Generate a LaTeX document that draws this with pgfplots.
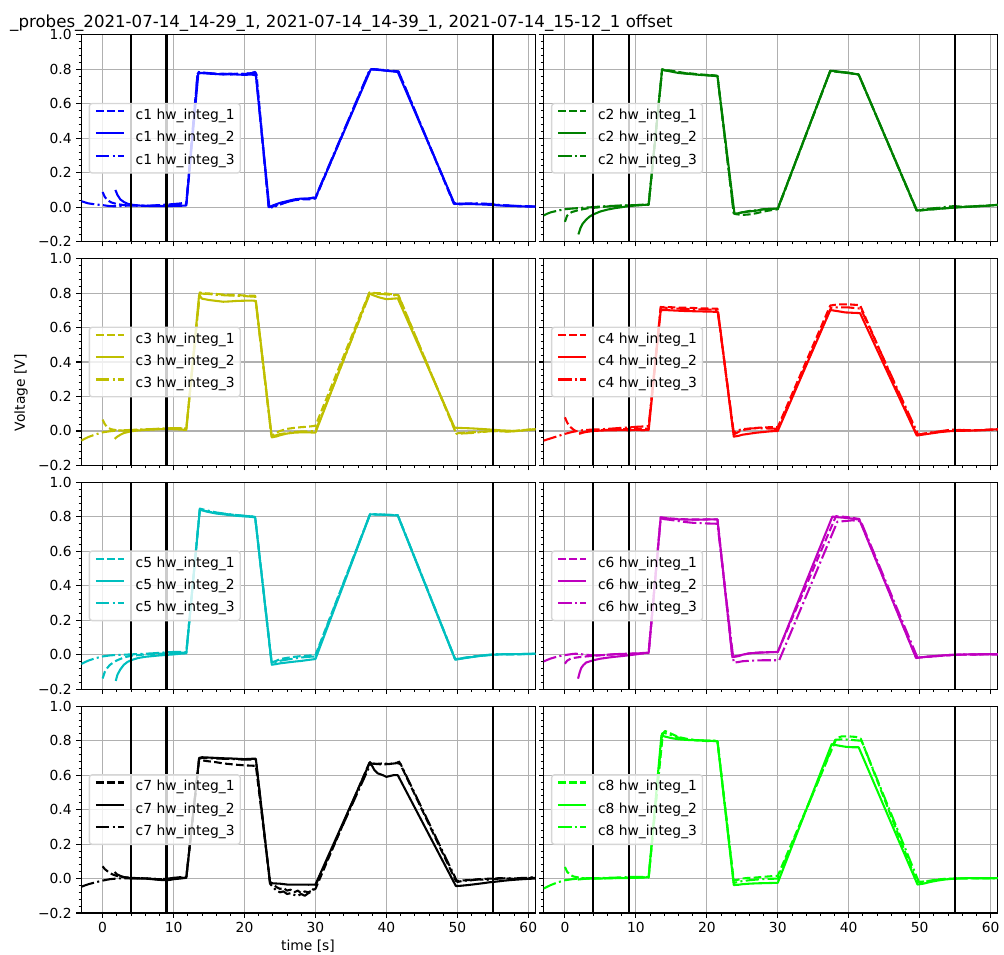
\documentclass[border=0pt]{standalone}
\usepackage{fontspec}
\setmainfont{DejaVu Sans}
\usepackage{pgfplots}
\pgfplotsset{compat=1.18}

\definecolor{mplb}{rgb}{0,0,1}
\definecolor{mplg}{rgb}{0,0.5,0}
\definecolor{mply}{rgb}{0.75,0.75,0}
\definecolor{mplr}{rgb}{1,0,0}
\definecolor{mplc}{rgb}{0,0.75,0.75}
\definecolor{mplm}{rgb}{0.75,0,0.75}
\definecolor{mplk}{rgb}{0,0,0}
\definecolor{mpllime}{rgb}{0,1,0}
\definecolor{gridgray}{HTML}{B0B0B0}
\definecolor{legendedge}{HTML}{D6D6D6}

\pgfplotsset{
  panel/.style={
    scale only axis, width=327.96bp, height=149.33bp,
    anchor=north west,
    xmin=-3, xmax=61, ymin=-0.2, ymax=1.0,
    xtick={0,10,20,30,40,50,60},
    xticklabels={0,10,20,30,40,50,60},
    ytick={-0.2,0,0.2,0.4,0.6,0.8,1.0},
    yticklabels={−0.2,0.0,0.2,0.4,0.6,0.8,1.0},
    minor x tick num=4, minor y tick num=4,
    xmajorgrids, ymajorgrids,
    major grid style={gridgray, line width=0.8bp},
    tick pos=left, tick align=outside,
    major tick length=3.5bp, minor tick length=2bp,
    major tick style={black, line width=0.8bp},
    minor tick style={black, line width=0.6bp},
    axis line style={line width=0.8bp},
    tick label style={font=\fontsize{10bp}{12bp}\selectfont, text=black},
    legend cell align=left,
    legend style={at={(0,0.5)}, anchor=west, xshift=5.3bp,
      fill=white, fill opacity=0.8, text opacity=1,
      draw=legendedge, line width=1bp, rounded corners=2bp,
      font=\fontsize{10bp}{12bp}\selectfont,
      inner xsep=4bp, inner ysep=4bp, row sep=6.1bp, column sep=0bp,
      nodes={inner xsep=0bp, inner ysep=0bp, text height=7.6bp, text depth=2.4bp}},
    legend image code/.code={\draw[#1] (0bp,3.5bp) -- (20bp,3.5bp); \path (28bp,3.5bp);},
  },
  s1/.style={line width=1.5bp, dash pattern=on 5.55bp off 2.4bp, line join=round},
  s2/.style={line width=1.5bp, solid, line join=round},
  s3/.style={line width=1.5bp, dash pattern=on 9.6bp off 2.4bp on 1.5bp off 2.4bp, line join=round},
  vmark/.style={black, line width=1.5bp, forget plot},
}

% time markers at 4 s, 9 s and 55 s
\newcommand{\timemarks}{%
  \addplot[vmark] coordinates {(4,-0.2) (4,1.0)};
  \addplot[vmark] coordinates {(9,-0.2) (9,1.0)};
  \addplot[vmark] coordinates {(55,-0.2) (55,1.0)};
}

\begin{document}
\begin{tikzpicture}
\begin{scope}[x=0.72bp, y=-0.72bp]
  \path[use as bounding box] (0,0) rectangle (1004,958);
  \coordinate (P1) at (81.6,35);
  \coordinate (P2) at (545.4,35);
  \coordinate (P3) at (81.6,259.5);
  \coordinate (P4) at (545.4,259.5);
  \coordinate (P5) at (81.6,484);
  \coordinate (P6) at (545.4,484);
  \coordinate (P7) at (81.6,708.5);
  \coordinate (P8) at (545.4,708.5);
  \node[anchor=base west, font=\fontsize{12bp}{14bp}\selectfont, inner sep=0pt]
    at (10,27.5) {\_probes\_2021-07-14\_14-29\_1, 2021-07-14\_14-39\_1, 2021-07-14\_15-12\_1 offset};
  \node[rotate=90, font=\fontsize{10bp}{12bp}\selectfont, inner sep=0pt] at (21,394) {Voltage [V]};
  \node[anchor=base, font=\fontsize{10bp}{12bp}\selectfont, inner sep=0pt] at (309,954) {time [s]};
\end{scope}

% ---------------- c1 ----------------
\begin{axis}[panel, at={(P1)}, xticklabels={}]
\addplot[mplb, s1] coordinates {(0,0.088) (0.3,0.06) (0.7,0.04) (1.2,0.028) (2,0.018) (3,0.012) (4,0.01) (5,0.008) (6,0.007) (7,0.008) (8,0.009) (9,0.01) (10,0.012) (11,0.015) (11.8,0.018) (13.4,0.775) (14,0.78) (15,0.778) (16,0.772) (17,0.775) (18,0.77) (19,0.775) (20,0.772) (21,0.78) (21.5,0.785) (21.7,0.77) (23.4,0.0) (23.6,-0.01) (24,0.005) (25,0.02) (26,0.03) (27,0.04) (28,0.045) (29,0.045) (30,0.05) (37.7,0.8) (38.5,0.8) (39.5,0.795) (40.5,0.79) (41.7,0.788) (49.5,0.02) (50,0.015) (51,0.018) (52,0.02) (53,0.02) (54,0.018) (55,0.015) (56,0.012) (57,0.01) (58,0.008) (59,0.006) (60,0.005) (61,0.004)};
\addlegendentry{c1 hw\_integ\_1}
\addplot[mplb, s2] coordinates {(1.8,0.1) (2.1,0.07) (2.5,0.045) (3,0.03) (3.5,0.02) (4,0.015) (5,0.01) (6,0.008) (7,0.006) (8,0.007) (9,0.006) (10,0.007) (11,0.008) (11.8,0.01) (13.5,0.78) (14,0.778) (15,0.775) (16,0.773) (17,0.77) (18,0.772) (19,0.77) (20,0.768) (21,0.77) (21.6,0.765) (23.5,0.0) (24,0.01) (25,0.025) (26,0.035) (27,0.045) (28,0.05) (29,0.05) (30,0.055) (37.8,0.8) (38.5,0.798) (40,0.792) (41.6,0.785) (49.6,0.02) (50,0.02) (52,0.018) (54,0.015) (56,0.01) (58,0.006) (60,0.004) (61,0.003)};
\addlegendentry{c1 hw\_integ\_2}
\addplot[mplb, s3] coordinates {(-3,0.035) (-2.5,0.028) (-2,0.022) (-1,0.016) (0,0.012) (1,0.006) (2,0.005) (3,0.008) (4,0.01) (5,0.01) (6,0.008) (7,0.01) (8,0.012) (9,0.015) (10,0.018) (11,0.022) (11.8,0.028) (13.4,0.785) (14,0.782) (15,0.778) (16,0.775) (17,0.772) (18,0.775) (19,0.772) (20,0.775) (21,0.778) (21.6,0.775) (23.4,0.005) (24,0.0) (25,0.015) (26,0.03) (27,0.04) (28,0.048) (29,0.05) (30,0.058) (37.7,0.802) (38.5,0.8) (40,0.795) (41.7,0.788) (49.5,0.025) (50,0.02) (52,0.022) (54,0.02) (55,0.018) (56,0.012) (58,0.008) (60,0.005) (61,0.004)};
\addlegendentry{c1 hw\_integ\_3}
\timemarks
\end{axis}

% ---------------- c2 ----------------
\begin{axis}[panel, at={(P2)}, xticklabels={}, yticklabels={}]
\addplot[mplg, s1] coordinates {(0,-0.085) (0.3,-0.05) (0.7,-0.035) (1,-0.028) (2,-0.016) (3,-0.008) (4,-0.004) (5,0.0) (6,0.004) (7,0.006) (8,0.008) (9,0.01) (10,0.012) (11,0.014) (11.8,0.015) (13.7,0.8) (14,0.797) (15,0.792) (16,0.785) (17,0.778) (18,0.775) (19,0.77) (20,0.768) (21,0.765) (21.5,0.762) (23.8,-0.035) (24,-0.04) (25,-0.045) (26,-0.042) (27,-0.035) (28,-0.025) (29,-0.018) (30,-0.012) (37.4,0.79) (38.5,0.785) (40,0.78) (41.4,0.77) (49.6,-0.022) (50,-0.02) (51,-0.015) (52,-0.012) (53,-0.008) (54,-0.005) (55,0.0) (56,0.002) (57,0.004) (58,0.006) (59,0.008) (60,0.01) (61,0.012)};
\addlegendentry{c2 hw\_integ\_1}
\addplot[mplg, s2] coordinates {(1.9,-0.158) (2.2,-0.12) (2.5,-0.096) (3,-0.072) (3.5,-0.054) (4,-0.042) (5,-0.025) (6,-0.014) (7,-0.006) (8,0.0) (9,0.006) (10,0.01) (11,0.013) (11.8,0.015) (13.7,0.8) (14,0.795) (15,0.787) (16,0.779) (17,0.775) (18,0.772) (19,0.768) (20,0.765) (21,0.762) (21.5,0.76) (23.9,-0.038) (24.5,-0.035) (25,-0.03) (26,-0.025) (27,-0.02) (28,-0.012) (29,-0.01) (30,-0.008) (37.4,0.792) (38,0.79) (39,0.785) (40,0.78) (41.4,0.77) (49.6,-0.02) (50,-0.018) (52,-0.012) (54,-0.005) (56,0.0) (58,0.004) (60,0.01) (61,0.014)};
\addlegendentry{c2 hw\_integ\_2}
\addplot[mplg, s3] coordinates {(-3,-0.048) (-2.5,-0.038) (-2,-0.03) (-1,-0.02) (0,-0.012) (1,-0.008) (2,-0.005) (3,-0.002) (4,0.0) (5,0.004) (6,0.006) (7,0.008) (8,0.01) (9,0.011) (10,0.012) (11,0.013) (11.8,0.013) (13.7,0.798) (14,0.795) (15,0.79) (16,0.783) (17,0.777) (18,0.773) (19,0.77) (20,0.766) (21,0.764) (21.5,0.762) (23.8,-0.036) (24.5,-0.034) (25,-0.03) (26,-0.022) (27,-0.018) (28,-0.012) (29,-0.01) (30,-0.008) (37.4,0.79) (38.5,0.785) (40,0.778) (41.4,0.77) (49.6,-0.018) (50,-0.016) (51,-0.01) (52,-0.006) (53,-0.003) (54,0.004) (55,0.006) (56,0.002) (57,0.004) (58,0.006) (60,0.01) (61,0.013)};
\addlegendentry{c2 hw\_integ\_3}
\timemarks
\end{axis}

% ---------------- c3 ----------------
\begin{axis}[panel, at={(P3)}, xticklabels={}]
\addplot[mply, s1] coordinates {(0,0.066) (0.3,0.04) (0.7,0.02) (1.2,0.01) (2,0.004) (3,0.002) (4,0.004) (5,0.006) (6,0.008) (7,0.01) (8,0.012) (9,0.014) (10,0.015) (11,0.015) (11.8,0.012) (13.7,0.804) (14,0.8) (15,0.798) (16,0.795) (17,0.792) (18,0.79) (19,0.788) (20,0.787) (21,0.785) (21.5,0.785) (23.8,-0.03) (24.5,-0.01) (25,0.0) (26,0.012) (27,0.018) (28,0.022) (29,0.025) (30,0.03) (37.6,0.804) (38.5,0.8) (40,0.798) (41.7,0.788) (49.8,-0.012) (50,-0.013) (51,-0.01) (52,-0.008) (53,-0.005) (54,-0.003) (55,0.0) (56,-0.002) (57,-0.003) (58,0.0) (59,0.004) (60,0.008) (61,0.01)};
\addlegendentry{c3 hw\_integ\_1}
\addplot[mply, s2] coordinates {(1.7,-0.046) (2,-0.035) (2.5,-0.022) (3,-0.012) (4,-0.002) (5,0.003) (6,0.006) (7,0.008) (8,0.01) (9,0.012) (10,0.01) (11,0.008) (11.8,0.006) (13.6,0.79) (14,0.768) (15,0.76) (16,0.755) (17,0.75) (18,0.752) (19,0.755) (20,0.756) (21,0.757) (21.6,0.755) (23.85,-0.037) (24.5,-0.032) (25,-0.025) (26,-0.015) (27,-0.01) (28,-0.008) (29,-0.008) (30,-0.01) (37.6,0.8) (38,0.79) (39,0.775) (40,0.765) (41,0.768) (41.6,0.77) (49.6,0.02) (50,0.018) (52,0.015) (54,0.01) (56,0.004) (58,0.0) (59,0.002) (60,0.006) (61,0.01)};
\addlegendentry{c3 hw\_integ\_2}
\addplot[mply, s3] coordinates {(-3,-0.056) (-2.5,-0.045) (-2,-0.035) (-1,-0.02) (0,-0.008) (1,-0.002) (2,0.002) (3,0.004) (4,0.006) (5,0.008) (6,0.01) (7,0.011) (8,0.013) (9,0.015) (10,0.016) (11,0.016) (11.8,0.015) (13.7,0.8) (14,0.797) (15,0.795) (16,0.79) (17,0.788) (18,0.786) (19,0.784) (20,0.783) (21,0.78) (21.5,0.78) (23.8,-0.032) (24.5,-0.025) (25,-0.018) (26,-0.012) (27,-0.006) (28,-0.003) (29,-0.002) (30,0.0) (37.7,0.8) (38.5,0.796) (40,0.793) (41.7,0.785) (49.9,-0.017) (50.5,-0.015) (52,-0.012) (53,-0.008) (54,-0.004) (55,0.0) (56,-0.002) (57,-0.004) (58,-0.002) (59,0.002) (60,0.006) (61,0.01)};
\addlegendentry{c3 hw\_integ\_3}
\timemarks
\end{axis}

% ---------------- c4 ----------------
\begin{axis}[panel, at={(P4)}, xticklabels={}, yticklabels={}]
\addplot[mplr, s1] coordinates {(0,0.079) (0.3,0.05) (0.7,0.025) (1.2,0.008) (1.7,-0.005) (2,-0.012) (2.5,-0.008) (3,-0.003) (4,0.002) (5,0.004) (6,0.006) (7,0.008) (8,0.01) (9,0.012) (10,0.012) (11,0.013) (11.8,0.014) (13.5,0.715) (14,0.72) (15,0.718) (16,0.716) (17,0.715) (18,0.714) (19,0.712) (20,0.711) (21,0.71) (21.5,0.71) (23.8,-0.02) (24.5,-0.005) (25,0.005) (26,0.012) (27,0.018) (28,0.02) (29,0.022) (30,0.022) (37.4,0.728) (38.5,0.735) (40,0.735) (41.6,0.73) (49.6,-0.024) (50,-0.02) (51,-0.014) (52,-0.008) (53,-0.004) (54,0.0) (55,0.004) (56,0.006) (57,0.004) (58,0.004) (59,0.006) (60,0.008) (61,0.01)};
\addlegendentry{c4 hw\_integ\_1}
\addplot[mplr, s2] coordinates {(2,-0.017) (2.5,-0.01) (3,-0.006) (4,0.0) (5,0.002) (6,0.004) (7,0.004) (8,0.005) (9,0.004) (10,0.005) (11,0.004) (11.8,0.005) (13.5,0.70) (14,0.702) (15,0.7) (16,0.698) (17,0.696) (18,0.695) (19,0.694) (20,0.693) (21,0.692) (21.6,0.69) (23.8,-0.033) (24.5,-0.028) (25,-0.022) (26,-0.016) (27,-0.01) (28,-0.006) (29,-0.002) (30,0.0) (37.4,0.702) (38.5,0.695) (39.5,0.688) (40.5,0.686) (41.6,0.684) (49.6,-0.027) (50,-0.024) (51,-0.018) (52,-0.012) (53,-0.006) (54,-0.002) (55,0.0) (57,0.002) (59,0.005) (61,0.01)};
\addlegendentry{c4 hw\_integ\_2}
\addplot[mplr, s3] coordinates {(-3,-0.056) (-2,-0.043) (-1,-0.03) (0,-0.017) (1,-0.006) (2,0.002) (3,0.006) (4,0.008) (5,0.01) (6,0.012) (7,0.015) (8,0.018) (9,0.02) (10,0.024) (11,0.026) (11.8,0.028) (13.5,0.72) (14,0.716) (15,0.712) (16,0.71) (17,0.708) (18,0.707) (19,0.706) (20,0.705) (21,0.704) (21.5,0.703) (23.8,-0.01) (24.5,0.005) (25,0.01) (26,0.014) (27,0.016) (28,0.015) (29,0.014) (30,0.012) (37.5,0.715) (38.5,0.718) (40,0.717) (41.7,0.71) (49.8,-0.022) (50.5,-0.016) (51.5,-0.01) (52.5,-0.004) (53.5,0.002) (54.5,0.008) (55.5,0.006) (57,0.003) (59,0.005) (61,0.009)};
\addlegendentry{c4 hw\_integ\_3}
\timemarks
\end{axis}

% ---------------- c5 ----------------
\begin{axis}[panel, at={(P5)}, xticklabels={}]
\addplot[mplc, s1] coordinates {(0,-0.138) (0.3,-0.1) (0.6,-0.08) (1,-0.06) (1.5,-0.045) (2,-0.033) (3,-0.016) (4,-0.006) (5,-0.002) (6,0.002) (7,0.004) (8,0.006) (9,0.008) (10,0.01) (11,0.012) (11.8,0.012) (13.7,0.84) (14,0.838) (15,0.83) (16,0.822) (17,0.818) (18,0.814) (19,0.81) (20,0.806) (21,0.803) (21.5,0.8) (23.8,-0.045) (24.5,-0.035) (25,-0.025) (26,-0.018) (27,-0.012) (28,-0.008) (29,-0.005) (30,-0.002) (37.7,0.815) (38.5,0.814) (40,0.812) (41.6,0.81) (49.7,-0.026) (50,-0.024) (51,-0.018) (52,-0.012) (53,-0.007) (54,-0.003) (55,0.0) (56,0.002) (57,0.003) (58,0.002) (59,0.003) (60,0.004) (61,0.005)};
\addlegendentry{c5 hw\_integ\_1}
\addplot[mplc, s2] coordinates {(1.85,-0.152) (2.1,-0.115) (2.5,-0.085) (3,-0.058) (3.5,-0.042) (4,-0.032) (5,-0.019) (6,-0.012) (7,-0.008) (8,-0.004) (9,-0.001) (10,0.002) (11,0.006) (11.8,0.008) (13.7,0.842) (14,0.838) (15,0.828) (16,0.82) (17,0.815) (18,0.81) (19,0.806) (20,0.803) (21,0.8) (21.5,0.797) (23.85,-0.058) (24.5,-0.054) (25,-0.05) (26,-0.045) (27,-0.04) (28,-0.036) (29,-0.03) (30,-0.025) (37.7,0.815) (38.5,0.814) (40,0.812) (41.6,0.808) (49.7,-0.029) (50,-0.027) (51,-0.02) (52,-0.014) (53,-0.008) (54,-0.004) (55,0.0) (56,0.002) (57,0.002) (59,0.004) (61,0.006)};
\addlegendentry{c5 hw\_integ\_2}
\addplot[mplc, s3] coordinates {(-3,-0.054) (-2.5,-0.043) (-2,-0.034) (-1,-0.02) (0,-0.01) (1,-0.004) (2,-0.001) (3,0.0) (4,0.002) (5,0.004) (6,0.006) (7,0.008) (8,0.011) (9,0.014) (10,0.016) (11,0.016) (11.8,0.015) (13.7,0.848) (14,0.845) (15,0.835) (16,0.826) (17,0.82) (18,0.815) (19,0.81) (20,0.806) (21,0.803) (21.5,0.8) (23.85,-0.05) (24.5,-0.045) (25,-0.035) (26,-0.028) (27,-0.022) (28,-0.016) (29,-0.012) (30,-0.01) (37.7,0.817) (38.5,0.816) (40,0.812) (41.6,0.81) (49.7,-0.027) (50,-0.025) (51,-0.018) (52,-0.012) (53,-0.006) (54,-0.002) (55,0.002) (56,0.004) (57,0.003) (59,0.004) (61,0.005)};
\addlegendentry{c5 hw\_integ\_3}
\timemarks
\end{axis}

% ---------------- c6 ----------------
\begin{axis}[panel, at={(P6)}, xticklabels={}, yticklabels={}]
\addplot[mplm, s1] coordinates {(0,-0.052) (0.3,-0.035) (0.7,-0.025) (1,-0.02) (2,-0.014) (3,-0.01) (4,-0.006) (5,-0.003) (6,0.0) (7,0.002) (8,0.004) (9,0.006) (10,0.008) (11,0.01) (11.8,0.012) (13.5,0.798) (14,0.795) (15,0.79) (16,0.788) (17,0.786) (18,0.785) (19,0.785) (20,0.786) (21,0.786) (21.5,0.785) (23.6,-0.012) (24.5,-0.005) (25,0.0) (26,0.008) (27,0.012) (28,0.014) (29,0.015) (30,0.016) (38.2,0.804) (39,0.802) (40,0.798) (41.5,0.788) (49.5,-0.018) (50,-0.016) (51,-0.012) (52,-0.01) (53,-0.006) (54,-0.004) (55,0.0) (56,0.001) (57,0.002) (58,0.001) (59,0.002) (60,0.003) (61,0.003)};
\addlegendentry{c6 hw\_integ\_1}
\addplot[mplm, s2] coordinates {(1.85,-0.139) (2.1,-0.1) (2.3,-0.077) (2.6,-0.06) (3,-0.045) (4,-0.032) (5,-0.023) (6,-0.017) (7,-0.012) (8,-0.008) (9,-0.003) (10,0.002) (11,0.008) (11.8,0.012) (13.5,0.796) (14,0.794) (15,0.789) (16,0.786) (17,0.785) (18,0.784) (19,0.784) (20,0.785) (21,0.786) (21.5,0.785) (23.6,-0.014) (24.5,-0.008) (25,0.0) (26,0.008) (27,0.011) (28,0.013) (29,0.015) (30,0.016) (37.7,0.802) (38.5,0.798) (40,0.793) (41.5,0.784) (49.5,-0.019) (50,-0.016) (51,-0.012) (52,-0.009) (53,-0.005) (54,-0.002) (55,0.0) (57,0.002) (59,0.003) (61,0.003)};
\addlegendentry{c6 hw\_integ\_2}
\addplot[mplm, s3] coordinates {(-3,-0.039) (-2.5,-0.03) (-2,-0.022) (-1,-0.01) (0,-0.002) (1,0.004) (1.5,0.006) (2,0.004) (3,0.0) (4,-0.004) (5,-0.003) (6,0.0) (7,0.003) (8,0.005) (9,0.006) (10,0.007) (11,0.008) (11.8,0.01) (13.5,0.792) (14,0.787) (15,0.782) (16,0.776) (17,0.77) (18,0.766) (19,0.764) (20,0.762) (21,0.761) (21.5,0.76) (23.8,-0.046) (24.5,-0.042) (25,-0.038) (26,-0.035) (27,-0.033) (28,-0.032) (29,-0.032) (30.2,-0.032) (38.4,0.772) (39.5,0.776) (40.5,0.78) (41.7,0.775) (49.7,-0.018) (50,-0.016) (51,-0.012) (52,-0.008) (53,-0.005) (54,-0.002) (55,0.0) (57,0.001) (59,0.002) (61,0.003)};
\addlegendentry{c6 hw\_integ\_3}
\timemarks
\end{axis}

% ---------------- c7 ----------------
\begin{axis}[panel, at={(P7)}]
\addplot[mplk, s1] coordinates {(0,0.071) (0.3,0.055) (0.6,0.045) (1,0.032) (1.5,0.022) (2,0.015) (3,0.008) (4,0.004) (5,0.002) (6,0.001) (7,-0.002) (8,-0.004) (9,-0.003) (10,0.0) (11,0.004) (11.8,0.006) (13.6,0.685) (14,0.686) (15,0.68) (16,0.675) (17,0.668) (18,0.664) (19,0.66) (20,0.657) (21,0.655) (21.6,0.654) (23.6,-0.02) (24,-0.03) (24.5,-0.05) (25,-0.06) (25.5,-0.055) (26,-0.07) (26.5,-0.065) (27,-0.08) (27.5,-0.07) (28,-0.085) (28.5,-0.075) (29,-0.08) (29.5,-0.07) (30,-0.06) (37.6,0.672) (38.5,0.665) (39.5,0.662) (40.5,0.665) (41.5,0.672) (41.8,0.678) (49.8,-0.015) (50.5,-0.012) (52,-0.008) (53,-0.004) (54,-0.002) (55,0.0) (56,0.002) (57,0.0) (58,-0.002) (59,0.0) (60,0.002) (61,0.004)};
\addlegendentry{c7 hw\_integ\_1}
\addplot[mplk, s2] coordinates {(1.7,0.038) (2,0.025) (2.5,0.015) (3,0.008) (4,0.002) (5,0.0) (6,0.0) (7,-0.004) (8,-0.008) (9,-0.01) (9.5,-0.008) (10,-0.004) (11,0.0) (11.8,0.004) (13.6,0.70) (14,0.704) (15,0.702) (16,0.7) (17,0.698) (18,0.697) (19,0.695) (20,0.693) (21,0.695) (21.6,0.695) (23.6,-0.025) (24,-0.028) (25,-0.03) (26,-0.035) (27,-0.035) (28,-0.035) (29,-0.036) (30,-0.035) (37.7,0.676) (38.3,0.63) (38.8,0.61) (39.5,0.6) (40,0.59) (40.5,0.595) (41,0.6) (41.6,0.6) (49.8,-0.044) (50.5,-0.042) (51.5,-0.038) (52.5,-0.033) (53.5,-0.028) (54.5,-0.022) (55.5,-0.018) (56.5,-0.013) (57.5,-0.009) (58.5,-0.006) (59.5,-0.003) (61,0.0)};
\addlegendentry{c7 hw\_integ\_2}
\addplot[mplk, s3] coordinates {(-3,-0.048) (-2.5,-0.04) (-2,-0.033) (-1,-0.022) (0,-0.012) (1,-0.004) (2,0.0) (3,0.002) (4,0.0) (5,0.002) (6,0.001) (7,-0.002) (8,-0.004) (9,-0.002) (10,0.004) (11,0.008) (11.8,0.01) (13.6,0.695) (14,0.7) (15,0.698) (16,0.697) (17,0.695) (18,0.694) (19,0.692) (20,0.69) (21,0.69) (21.6,0.69) (23.6,-0.03) (24,-0.05) (24.5,-0.07) (25,-0.08) (25.5,-0.075) (26,-0.09) (26.5,-0.085) (27,-0.095) (27.5,-0.1) (28,-0.09) (28.5,-0.1) (29,-0.085) (29.5,-0.075) (30,-0.04) (37.8,0.668) (38.5,0.665) (39.5,0.668) (40.5,0.665) (41.5,0.67) (42,0.665) (50,-0.02) (51,-0.012) (52,-0.01) (53,-0.005) (54,-0.008) (55,-0.004) (56,0.0) (57,0.002) (58,0.0) (59,0.003) (60,0.004) (61,0.01)};
\addlegendentry{c7 hw\_integ\_3}
\timemarks
\end{axis}

% ---------------- c8 ----------------
\begin{axis}[panel, at={(P8)}, yticklabels={}]
\addplot[mpllime, s1] coordinates {(0,0.067) (0.3,0.04) (0.7,0.022) (1.2,0.012) (2,0.005) (3,0.0) (4,0.0) (5,0.001) (6,0.002) (7,0.003) (8,0.004) (9,0.005) (10,0.006) (11,0.006) (11.8,0.005) (13.8,0.84) (14.1,0.856) (14.5,0.85) (15,0.84) (16,0.822) (17,0.812) (18,0.805) (19,0.8) (20,0.798) (21,0.797) (21.5,0.797) (23.8,-0.012) (24.5,-0.006) (25,0.0) (26,0.004) (27,0.006) (28,0.01) (29,0.013) (30,0.016) (38.3,0.815) (39,0.825) (40,0.825) (41,0.822) (41.7,0.812) (49.6,-0.02) (50.5,-0.018) (51.5,-0.012) (52.5,-0.006) (53.5,-0.002) (55,0.0) (57,0.001) (59,0.001) (61,0.002)};
\addlegendentry{c8 hw\_integ\_1}
\addplot[mpllime, s2] coordinates {(1.8,-0.006) (2.5,-0.003) (3,-0.001) (4,0.0) (5,0.0) (6,0.001) (7,0.002) (8,0.002) (9,0.003) (10,0.004) (11,0.006) (11.8,0.008) (13.6,0.83) (14,0.825) (15,0.815) (16,0.808) (17,0.805) (18,0.803) (19,0.802) (20,0.8) (21,0.799) (21.5,0.797) (23.8,-0.038) (24.5,-0.036) (25,-0.033) (26,-0.03) (27,-0.028) (28,-0.027) (29,-0.026) (30,-0.025) (37.6,0.78) (38.5,0.772) (39.5,0.765) (40.5,0.762) (41.4,0.762) (49.7,-0.035) (50.5,-0.03) (51.5,-0.02) (52.5,-0.012) (53.5,-0.006) (54.5,-0.002) (55.5,0.0) (57,0.002) (59,0.001) (61,0.002)};
\addlegendentry{c8 hw\_integ\_2}
\addplot[mpllime, s3] coordinates {(-3,-0.058) (-2.5,-0.048) (-2,-0.038) (-1,-0.022) (0,-0.01) (1,-0.004) (2,0.0) (3,0.002) (4,0.002) (5,0.003) (6,0.004) (7,0.005) (8,0.007) (9,0.009) (10,0.01) (11,0.01) (11.8,0.01) (13.7,0.842) (14,0.845) (15,0.832) (16,0.818) (17,0.81) (18,0.806) (19,0.802) (20,0.8) (21,0.8) (21.5,0.8) (23.8,-0.025) (24.5,-0.02) (25,-0.015) (26,-0.01) (27,-0.006) (28,-0.003) (29,-0.002) (30,0.0) (38.1,0.805) (39,0.808) (40,0.806) (41,0.802) (41.8,0.8) (49.9,-0.022) (50.5,-0.02) (51.5,-0.014) (52.5,-0.008) (53.5,-0.003) (55,0.0) (57,0.002) (59,0.002) (61,0.003)};
\addlegendentry{c8 hw\_integ\_3}
\timemarks
\end{axis}
\end{tikzpicture}
\end{document}
